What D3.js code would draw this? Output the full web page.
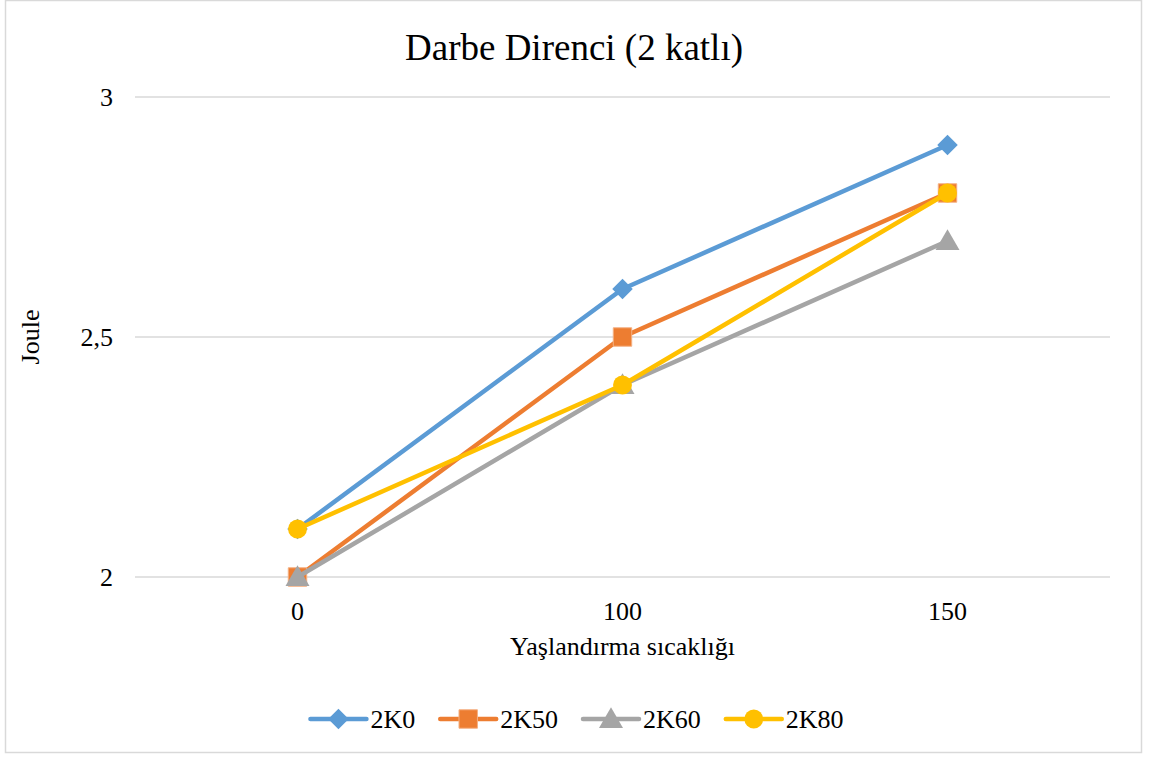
<!DOCTYPE html>
<html>
<head>
<meta charset="utf-8">
<script src="https://cdn.jsdelivr.net/npm/d3@7"></script>
<style>
  html, body { margin: 0; padding: 0; background: #fff; }
  svg { display: block; font-family: "Liberation Serif", "Times New Roman", serif; }
</style>
</head>
<body>
<svg id="chart" width="1150" height="758"></svg>
<script>
// Aging temperature categories and impact energy per series
const categories = ["0", "100", "150"];
const series2K0  = [2.1, 2.6, 2.9];
const series2K50 = [2.0, 2.5, 2.8];
const series2K60 = [2.0, 2.4, 2.7];
const series2K80 = [2.1, 2.4, 2.8];
const seriesNames = ["2K0", "2K50", "2K60", "2K80"];
const yTicks = [2, 2.5, 3];

const seriesList = [
  { name: seriesNames[0], values: series2K0,  color: "#5b9bd5", marker: "diamond" },
  { name: seriesNames[1], values: series2K50, color: "#ed7d31", marker: "square" },
  { name: seriesNames[2], values: series2K60, color: "#a5a5a5", marker: "triangle" },
  { name: seriesNames[3], values: series2K80, color: "#ffc000", marker: "circle" }
];

// marker shapes: diamond is a square turned by 45 degrees
const markers = {
  diamond:  { type: d3.symbolSquare,   size: 210, rotate: 45, dy: 0 },
  square:   { type: d3.symbolSquare,   size: 340, rotate: 0,  dy: 0 },
  triangle: { type: d3.symbolTriangle, size: 250, rotate: 0,  dy: 2 },
  circle:   { type: d3.symbolCircle,   size: 280, rotate: 0,  dy: 0 }
};

const svg = d3.select("#chart");
const FONT = 26;

// chart frame
svg.append("rect")
  .attr("x", 5.5).attr("y", 0.5).attr("width", 1136).attr("height", 752)
  .attr("fill", "#fff").attr("stroke", "#d9d9d9").attr("stroke-width", 1.5);

const plot = { left: 135, right: 1110, top: 97, bottom: 577 };

const x = d3.scaleBand().domain(categories).range([plot.left, plot.right]);
const y = d3.scaleLinear().domain([2, 3]).range([plot.bottom, plot.top]);

// horizontal gridlines
svg.append("g").selectAll("line").data(yTicks).join("line")
  .attr("x1", plot.left).attr("x2", plot.right)
  .attr("y1", d => y(d)).attr("y2", d => y(d))
  .attr("stroke", "#d9d9d9").attr("stroke-width", 1.5);

const fmt = d => String(d).replace(".", ",");

// y axis labels
const yAxis = svg.append("g")
  .attr("transform", `translate(${plot.left - 22},0)`)
  .call(d3.axisLeft(y).tickValues(yTicks).tickFormat(fmt).tickSize(0).tickPadding(0));
yAxis.select(".domain").remove();
yAxis.selectAll("text")
  .attr("font-family", "Liberation Serif").attr("font-size", FONT).attr("fill", "#000");

// x axis labels
const xAxis = svg.append("g")
  .attr("transform", `translate(0,${plot.bottom + 23})`)
  .call(d3.axisBottom(x).tickSize(0).tickPadding(0));
xAxis.select(".domain").remove();
xAxis.selectAll("text")
  .attr("font-family", "Liberation Serif").attr("font-size", FONT).attr("fill", "#000")
  .attr("dy", "0.75em");

// title
svg.append("text")
  .attr("x", 574).attr("y", 60).attr("text-anchor", "middle")
  .attr("font-size", 37).attr("fill", "#000")
  .text("Darbe Direnci (2 katlı)");

// axis titles
svg.append("text")
  .attr("transform", `translate(39,337) rotate(-90)`)
  .attr("text-anchor", "middle").attr("font-size", FONT).attr("fill", "#000")
  .text("Joule");
svg.append("text")
  .attr("x", (plot.left + plot.right) / 2).attr("y", 655)
  .attr("text-anchor", "middle").attr("font-size", FONT).attr("fill", "#000")
  .text("Yaşlandırma sıcaklığı");

const cx = c => x(c) + x.bandwidth() / 2;
const line = d3.line().x((d, i) => cx(categories[i])).y(d => y(d));

function drawMarker(sel, s, px, py) {
  const m = markers[s.marker];
  return sel.append("path")
    .attr("transform", `translate(${px},${py + m.dy}) rotate(${m.rotate})`)
    .attr("d", d3.symbol().type(m.type).size(m.size))
    .attr("fill", s.color)
    .attr("stroke", s.marker === "square" ? "#f4b183" : "none")
    .attr("stroke-width", 1);
}

// series lines and markers
seriesList.forEach(s => {
  const g = svg.append("g");
  g.append("path")
    .attr("d", line(s.values))
    .attr("fill", "none").attr("stroke", s.color)
    .attr("stroke-width", 4.5).attr("stroke-linejoin", "round").attr("stroke-linecap", "round");
  s.values.forEach((v, i) => drawMarker(g, s, cx(categories[i]), y(v)));
});

// legend: entries laid out from measured text widths, centred under the chart
const legendY = 719, keyLen = 56, keyGap = 4, itemGap = 25, legendCenter = 577;
const legend = svg.append("g");
const entries = seriesList.map(s => {
  const g = legend.append("g");
  const t = g.append("text")
    .attr("x", keyLen + keyGap).attr("y", legendY + 9)
    .attr("font-family", "Liberation Serif")
    .attr("font-size", FONT).attr("fill", "#000")
    .text(s.name);
  g.append("line")
    .attr("x1", 0).attr("x2", keyLen)
    .attr("y1", legendY).attr("y2", legendY)
    .attr("stroke", s.color).attr("stroke-width", 4.5).attr("stroke-linecap", "round");
  drawMarker(g, s, keyLen / 2, legendY);
  return { g, w: keyLen + keyGap + t.node().getComputedTextLength() };
});
const total = d3.sum(entries, e => e.w) + itemGap * (entries.length - 1);
let pos = legendCenter - total / 2;
entries.forEach(e => {
  e.g.attr("transform", `translate(${pos},0)`);
  pos += e.w + itemGap;
});
</script>
</body>
</html>
